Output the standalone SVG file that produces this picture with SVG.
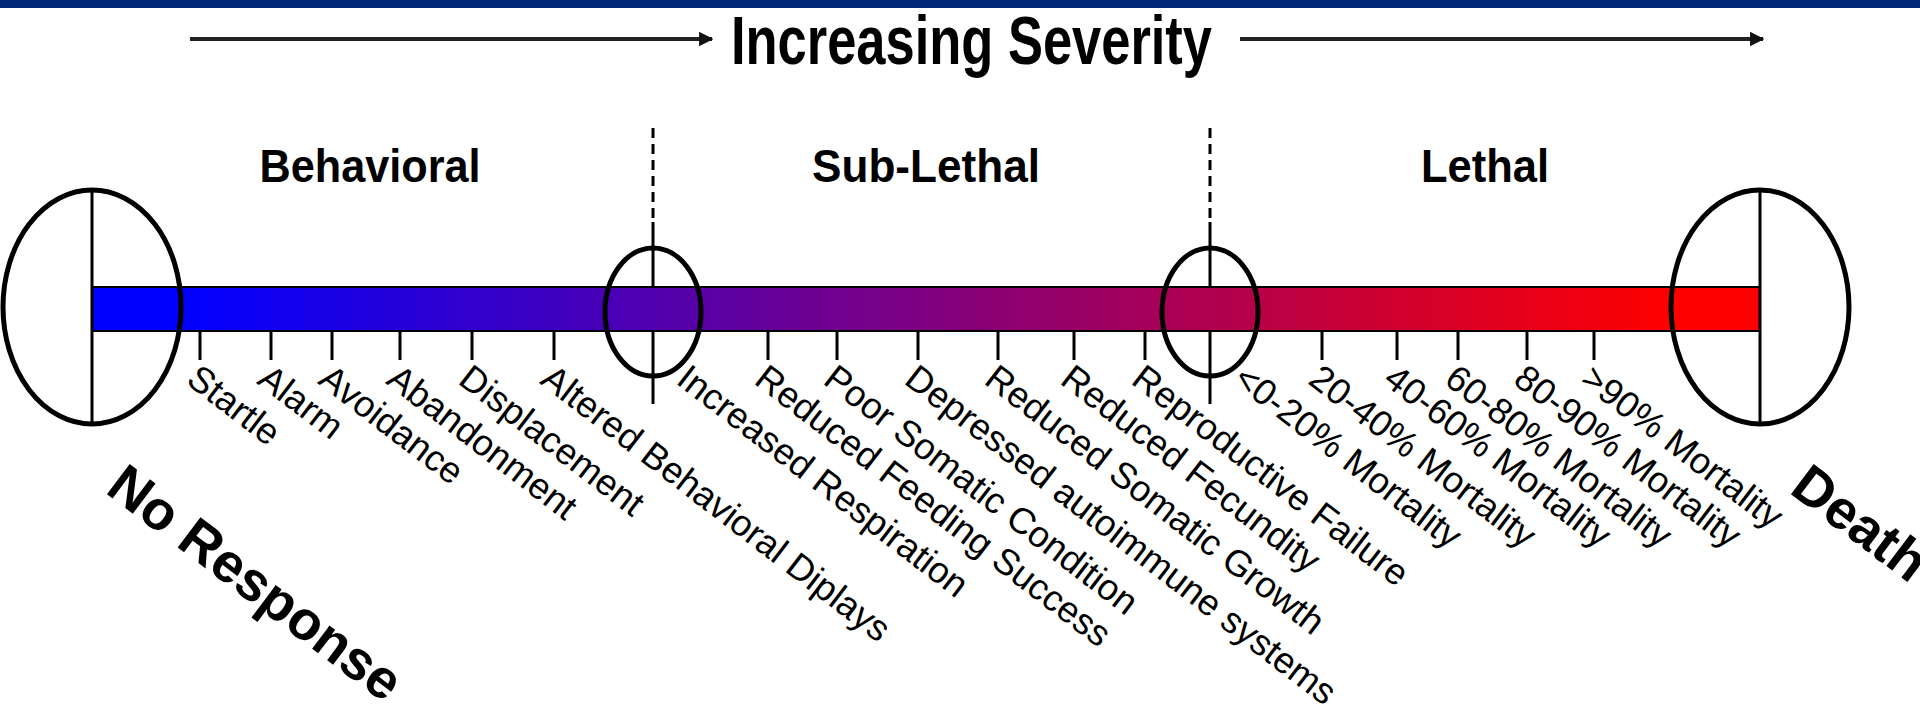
<svg xmlns="http://www.w3.org/2000/svg" width="1920" height="714" viewBox="0 0 1920 714">
<style>
.lbl{font-family:"Liberation Sans",Arial,sans-serif;font-size:36.5px;fill:#000}
.big{font-family:"Liberation Sans",Arial,sans-serif;font-size:55px;font-weight:bold;fill:#000}
.sec{font-family:"Liberation Sans",Arial,sans-serif;font-size:46px;font-weight:bold;fill:#000;text-anchor:middle}
.ell{fill:none;stroke:#000;stroke-width:5}
.vl{stroke:#000;stroke-width:3;fill:none}
.tick{stroke:#000;stroke-width:3}
.arr{stroke:#222;stroke-width:4;fill:none}
</style>
<defs>
<linearGradient id="sev" gradientUnits="userSpaceOnUse" x1="183" y1="0" x2="1671" y2="0">
<stop offset="0" stop-color="#0000FF"/>
<stop offset="1" stop-color="#FF0000"/>
</linearGradient>
<marker id="ah" viewBox="0 0 10 10" refX="9" refY="5" markerWidth="3.6" markerHeight="4" orient="auto" markerUnits="strokeWidth">
<path d="M0,0 L10,5 L0,10 z" fill="#111"/>
</marker>
</defs>
<rect width="1920" height="714" fill="#fff"/>
<rect x="0" y="0" width="1920" height="8" fill="#00277A"/>

<g id="title">
<text x="731" y="64" font-family="Liberation Sans, Arial, sans-serif" font-size="68" font-weight="bold" textLength="481" lengthAdjust="spacingAndGlyphs">Increasing Severity</text>
</g>

<g id="connectors">
<line class="arr" x1="190" y1="39" x2="712" y2="39" marker-end="url(#ah)"/>
<line class="arr" x1="1240" y1="39" x2="1763" y2="39" marker-end="url(#ah)"/>
<line class="vl" x1="653" y1="128" x2="653" y2="222" stroke-dasharray="10 6"/>
<line class="vl" x1="653" y1="222" x2="653" y2="404"/>
<line class="vl" x1="1210" y1="128" x2="1210" y2="222" stroke-dasharray="10 6"/>
<line class="vl" x1="1210" y1="222" x2="1210" y2="404"/>
<g class="tick">
<line x1="200" y1="331" x2="200" y2="360"/>
<line x1="271" y1="331" x2="271" y2="360"/>
<line x1="332" y1="331" x2="332" y2="360"/>
<line x1="400" y1="331" x2="400" y2="360"/>
<line x1="472" y1="331" x2="472" y2="360"/>
<line x1="554" y1="331" x2="554" y2="360"/>
<line x1="768" y1="331" x2="768" y2="360"/>
<line x1="837" y1="331" x2="837" y2="360"/>
<line x1="918" y1="331" x2="918" y2="360"/>
<line x1="998" y1="331" x2="998" y2="360"/>
<line x1="1074" y1="331" x2="1074" y2="360"/>
<line x1="1145" y1="331" x2="1145" y2="360"/>
<line x1="1322" y1="331" x2="1322" y2="360"/>
<line x1="1397" y1="331" x2="1397" y2="360"/>
<line x1="1458" y1="331" x2="1458" y2="360"/>
<line x1="1527" y1="331" x2="1527" y2="360"/>
<line x1="1594" y1="331" x2="1594" y2="360"/>
</g>
</g>

<g id="bar">
<rect x="92" y="287" width="1668" height="44" fill="url(#sev)" stroke="#000" stroke-width="2"/>
</g>

<g id="no-response-node">
<ellipse class="ell" cx="92" cy="307" rx="89" ry="117"/>
<line class="vl" x1="92" y1="190" x2="92" y2="424"/>
<text class="big" transform="translate(104,492) rotate(37)" font-size="53">No Response</text>
</g>
<g id="death-node">
<ellipse class="ell" cx="1760" cy="307" rx="89" ry="117"/>
<line class="vl" x1="1760" y1="190" x2="1760" y2="424"/>
<text class="big" transform="translate(1788,492) rotate(37)">Death</text>
</g>
<g id="threshold-1">
<ellipse class="ell" cx="653" cy="312" rx="48" ry="64"/>
</g>
<g id="threshold-2">
<ellipse class="ell" cx="1210" cy="312" rx="48" ry="64"/>
</g>

<g id="sections">
<text class="sec" x="370" y="182" textLength="221" lengthAdjust="spacingAndGlyphs">Behavioral</text>
<text class="sec" x="926" y="182" textLength="228" lengthAdjust="spacingAndGlyphs">Sub-Lethal</text>
<text class="sec" x="1485" y="182" textLength="128" lengthAdjust="spacingAndGlyphs">Lethal</text>
</g>

<g id="labels">
<text class="lbl" transform="translate(200,363) rotate(37.5)" y="25">Startle</text>
<text class="lbl" transform="translate(271,363) rotate(37.5)" y="25">Alarm</text>
<text class="lbl" transform="translate(332,363) rotate(37.5)" y="25">Avoidance</text>
<text class="lbl" transform="translate(400,363) rotate(37.5)" y="25">Abandonment</text>
<text class="lbl" transform="translate(472,363) rotate(37.5)" y="25">Displacement</text>
<text class="lbl" transform="translate(554,363) rotate(37.5)" y="25">Altered Behavioral Diplays</text>
<text class="lbl" transform="translate(690,363) rotate(37.5)" y="25">Increased Respiration</text>
<text class="lbl" transform="translate(768,363) rotate(37.5)" y="25">Reduced Feeding Success</text>
<text class="lbl" transform="translate(837,363) rotate(37.5)" y="25">Poor Somatic Condition</text>
<text class="lbl" transform="translate(918,363) rotate(37.5)" y="25">Depressed autoimmune systems</text>
<text class="lbl" transform="translate(998,363) rotate(37.5)" y="25">Reduced Somatic Growth</text>
<text class="lbl" transform="translate(1074,363) rotate(37.5)" y="25">Reduced Fecundity</text>
<text class="lbl" transform="translate(1145,363) rotate(37.5)" y="25">Reproductive Failure</text>
<text class="lbl" transform="translate(1247,363) rotate(37.5)" y="25">&lt;0-20% Mortality</text>
<text class="lbl" transform="translate(1322,363) rotate(37.5)" y="25">20-40% Mortality</text>
<text class="lbl" transform="translate(1397,363) rotate(37.5)" y="25">40-60% Mortality</text>
<text class="lbl" transform="translate(1458,363) rotate(37.5)" y="25">60-80% Mortality</text>
<text class="lbl" transform="translate(1527,363) rotate(37.5)" y="25">80-90% Mortality</text>
<text class="lbl" transform="translate(1594,363) rotate(37.5)" y="25">&gt;90% Mortality</text>
</g>
</svg>
